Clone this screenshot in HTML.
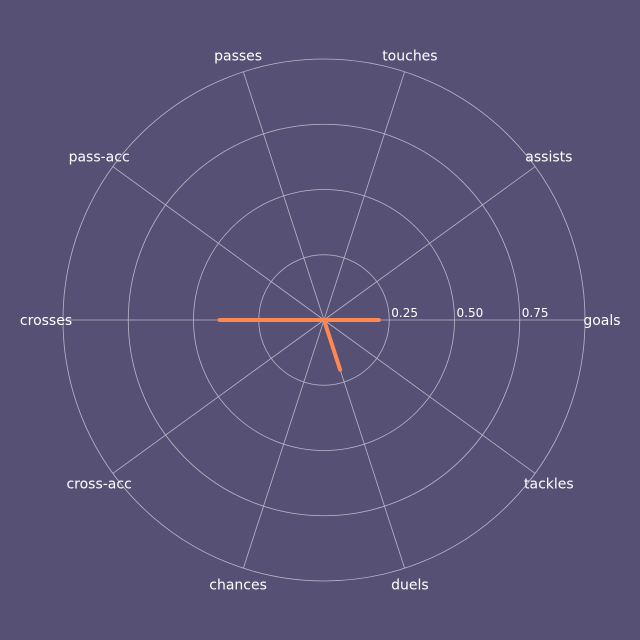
<!DOCTYPE html>
<html><head><meta charset="utf-8"><style>
html,body{margin:0;padding:0;background:#575075;}
svg{display:block;font-family:"DejaVu Sans","Liberation Sans",sans-serif;}
</style></head><body>
<svg id="chart" width="640" height="640">
<rect width="640" height="640" fill="#575075"/>
<g id="grid"></g><g id="series"></g><g id="labels"></g>
</svg>
<script>
const categories=["goals","assists","touches","passes","pass-acc","crosses","cross-acc","chances","duels","tackles"];
const values=[0.21,0,0,0,0,0.40,0,0,0.20,0];
const ringValues=[0.25,0.5,0.75,1.0];
const tickLabels=["0.25","0.50","0.75"];
const cx=324,cy=320,R=261;
const NS="http://www.w3.org/2000/svg";
function rScale(v){return v*R;}
function ang(i){return i*2*Math.PI/categories.length;}
function pt(i,v){const a=ang(i);return [cx+rScale(v)*Math.cos(a),cy-rScale(v)*Math.sin(a)];}
function mk(tag,attrs,parent){const e=document.createElementNS(NS,tag);for(const k in attrs)e.setAttribute(k,attrs[k]);parent.appendChild(e);return e;}
const grid=document.getElementById('grid'),series=document.getElementById('series'),labels=document.getElementById('labels');
ringValues.forEach((v,k)=>{
  const c=mk('circle',{cx:cx,cy:cy,r:rScale(v),fill:'none',stroke:'#b8b6c8','stroke-width':0.8},grid);
  
  
});
categories.forEach((name,i)=>{
  const p=pt(i,1);
  const l=mk('line',{x1:cx,y1:cy,x2:p[0],y2:p[1],stroke:'#b8b6c8','stroke-width':0.8},grid);
  
  
  const q=pt(i,1.065);
  const t=mk('text',{x:q[0],y:q[1]+5,'text-anchor':'middle','font-size':14,fill:'#ffffff'},labels);
  t.textContent=name;
  
  
});
tickLabels.forEach((s,k)=>{
  const t=mk('text',{x:cx+rScale(ringValues[k])+2,y:cy-3,'font-size':12,fill:'#ffffff'},labels);
  t.textContent=s;
  
  
});
const pts=values.map((v,i)=>pt(i,v));
pts.push(pts[0]);
const poly=mk('polyline',{points:pts.map(p=>p[0].toFixed(1)+','+p[1].toFixed(1)).join(' '),fill:'none',stroke:'#ff8752','stroke-width':4,'stroke-linejoin':'round','stroke-linecap':'round'},series);


</script>
</body></html>
